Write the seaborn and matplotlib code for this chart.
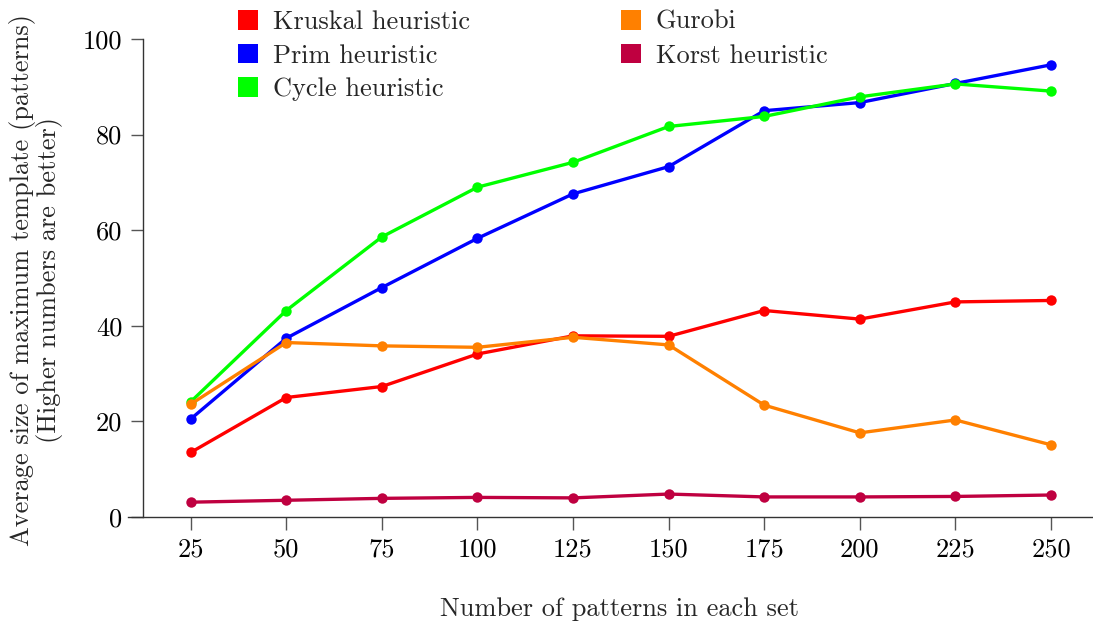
import matplotlib
matplotlib.use("Agg")
import matplotlib.pyplot as plt
from matplotlib.patches import Patch
import seaborn as sns
import pandas as pd

# Number of patterns per set
set_sizes = [25, 50, 75, 100, 125, 150, 175, 200, 225, 250]

# Average size of the maximum template found by each method
kruskal = [13.5, 25.0, 27.3, 34.1, 37.9, 37.8, 43.2, 41.4, 45.0, 45.3]
prim = [20.5, 37.4, 48.0, 58.3, 67.6, 73.3, 85.0, 86.7, 90.7, 94.6]
cycle = [24.1, 43.2, 58.6, 69.0, 74.2, 81.7, 83.8, 87.9, 90.6, 89.1]
gurobi = [23.6, 36.5, 35.8, 35.5, 37.6, 36.0, 23.4, 17.6, 20.3, 15.1]
korst = [3.1, 3.5, 3.9, 4.1, 4.0, 4.8, 4.2, 4.2, 4.3, 4.6]

method_names = ["Kruskal heuristic", "Prim heuristic", "Cycle heuristic",
                "Gurobi", "Korst heuristic"]
method_values = [kruskal, prim, cycle, gurobi, korst]
method_colors = ["#ff0000", "#0000ff", "#00ff00", "#ff8000", "#bf0040"]

y_ticks = [0, 20, 40, 60, 80, 100]

rows = []
for name, vals in zip(method_names, method_values):
    for n, v in zip(set_sizes, vals):
        rows.append({"patterns": n, "size": v, "method": name})
df = pd.DataFrame(rows)

sns.set_style("ticks")
plt.rcParams["font.family"] = ["cmr10", "DejaVu Serif"]
plt.rcParams["mathtext.fontset"] = "cm"
plt.rcParams["axes.unicode_minus"] = False
plt.rcParams["axes.formatter.use_mathtext"] = True

FS = 19
W, H = 1093, 626
fig = plt.figure(figsize=(W / 100, H / 100), dpi=100)
ax = fig.add_axes([128 / W, 1 - 517 / H, (1093 - 128) / W, (517 - 39) / H])

palette = dict(zip(method_names, method_colors))
sns.lineplot(data=df, x="patterns", y="size", hue="method",
             hue_order=method_names, palette=palette, marker="o",
             markersize=7.5, markeredgewidth=0, linewidth=2.4,
             legend=False, ax=ax)

x_per_unit = (1051 - 190.7) / 225
ax.set_xlim(25 - (190.7 - 128) / x_per_unit, 250 + (1093 - 1051) / x_per_unit)
ax.set_ylim(0, 100)
ax.set_xticks(set_sizes)
ax.set_xticklabels([str(v) for v in set_sizes])
ax.set_yticks(y_ticks)
ax.set_yticklabels([str(v) for v in y_ticks])

ax.spines["left"].set_position(("data", 25 - (190.7 - 143) / x_per_unit))
ax.spines["top"].set_visible(False)
ax.spines["right"].set_visible(False)
for s in ("left", "bottom"):
    ax.spines[s].set_color("#333333")
    ax.spines[s].set_linewidth(1.0)
ax.spines["left"].set_bounds(0, 100)

ax.tick_params(axis="both", direction="out", length=9, width=1.0,
               color="#555555", labelsize=FS, labelcolor="black", pad=6)

ax.set_xlabel("Number of patterns in each set", fontsize=FS)
ax.xaxis.set_label_coords(620 / W, 1 - 597 / H, transform=fig.transFigure)
ax.set_ylabel("Average size of maximum template (patterns)\n(Higher numbers are better)",
              fontsize=FS, linespacing=1.0, ha="center", va="center")
ax.yaxis.set_label_coords(36 / W, 1 - 280 / H, transform=fig.transFigure)

handles = [Patch(facecolor=c, edgecolor="none") for c in method_colors]
leg_kw = dict(frameon=False, fontsize=FS, handlelength=0.76, handleheight=0.76,
              handletextpad=0.55, labelspacing=0.37, borderpad=0,
              borderaxespad=0, loc="upper left")
leg1 = ax.legend(handles[:3], method_names[:3],
                 bbox_to_anchor=(238 / W, 1 - 10 / H),
                 bbox_transform=fig.transFigure, **leg_kw)
ax.add_artist(leg1)
ax.legend(handles[3:], method_names[3:],
          bbox_to_anchor=(621 / W, 1 - 10 / H),
          bbox_transform=fig.transFigure, **leg_kw)

fig.savefig("out.png", dpi=100)
